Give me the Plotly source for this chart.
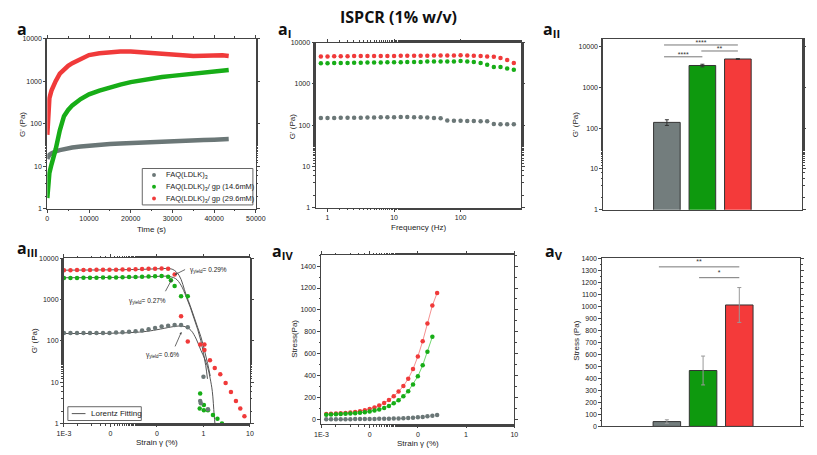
import plotly.graph_objects as go

# The page body has an 8px default margin: the figure starts 8px in from the window corner
OFF = 8
W, H = 817 - OFF, 455 - OFF
def PX(x): return (x - OFF) / W
def PY(y): return 1 - (y - OFF) / H

GRAY, GREEN, RED = '#6b7777', '#17ad17', '#f03a3a'
BGRAY, BGREEN, BRED = '#737d7d', '#0e990e', '#f43a3a'
FONT = 'Liberation Sans'

# ---------------- panel a : time sweep ----------------
time_s = [0, 250, 500, 1000, 1500, 2000, 3000, 4000, 5000, 6000, 8000, 10000, 12500,
          15000, 17500, 20000, 22500, 25000, 27500, 30000, 32500, 35000, 37500, 40000, 42000, 43500]
a_gray = [15, 17, 18.5, 20, 21.5, 22.5, 24, 25.5, 26.5, 27.5, 29, 30.5, 32, 33.5, 34.5,
          35.5, 36.5, 37.5, 38.5, 39.5, 40, 41, 41.5, 42, 43, 43.5]
a_green = [1.8, 4.5, 7.0, 11, 16, 25, 70, 150, 210, 270, 380, 490, 600, 720, 830, 950,
           1050, 1150, 1250, 1330, 1420, 1500, 1580, 1680, 1760, 1820]
a_red = [55, 250, 400, 600, 800, 1000, 1500, 1900, 2300, 2650, 3400, 4100, 4500, 4800,
         5000, 5000, 4800, 4500, 4350, 4200, 4000, 3900, 3950, 4050, 4050, 3900]
time_ticks = [0, 10000, 20000, 30000, 40000, 50000]
legend_labels = ['FAQ(LDLK)<sub>3</sub>', 'FAQ(LDLK)<sub>3</sub>/ gp (14.6mM)',
                 'FAQ(LDLK)<sub>3</sub>/ gp (29.6mM)']

# ---------------- panel aI : frequency sweep ----------------
freq_hz = [0.794, 1, 1.26, 1.58, 2, 2.51, 3.16, 3.98, 5.01, 6.31, 7.94, 10, 12.6, 15.8, 20,
           25.1, 31.6, 39.8, 50.1, 63.1, 79.4, 100, 126, 158, 200, 251, 316, 398, 501, 631]
f_red = [4600, 4600, 4650, 4650, 4650, 4700, 4700, 4700, 4700, 4750, 4750, 4750, 4800, 4800,
         4800, 4800, 4800, 4850, 4850, 4850, 4850, 4900, 4850, 4800, 4750, 4600, 4500, 4200, 3800, 3200]
f_green = [3150, 3150, 3200, 3200, 3200, 3250, 3250, 3300, 3300, 3300, 3350, 3350, 3350, 3400,
           3400, 3400, 3450, 3450, 3450, 3450, 3450, 3550, 3450, 3400, 3200, 2900, 2550, 2550, 2350, 2200]
f_gray = [150, 150, 150, 152, 152, 152, 152, 153, 153, 155, 155, 156, 158, 158, 156, 155, 153,
          150, 148, 130, 128, 128, 127, 126, 125, 124, 107, 106, 106, 106]

# ---------------- panel aII : G' bars ----------------
bar_cats = [0, 1, 2]
g_bars = [138, 3400, 4900]
g_err = [22, 250, 100]
g_sig_from = [-0.08, -0.08, 0.97]
g_sig_to = [2.0, 1.0, 2.0]
g_sig_level = [10800, 5550, 7700]
g_sig_text = ['****', '****', '**']
g_sig_text_level = [11800, 6100, 8400]

# ---------------- panel aIII : amplitude sweep ----------------
s_red = [0.001, 0.00138, 0.00191, 0.00263, 0.00363, 0.00501, 0.00692, 0.00955, 0.0132, 0.0182,
         0.0251, 0.0347, 0.0479, 0.0661, 0.0912, 0.126, 0.174, 0.24, 0.33, 0.46, 0.85, 1.05, 1.05,
         1.38, 1.75, 2.3, 3.0, 3.9, 5.0, 6.2, 7.6]
g_red = [5100, 5100, 5150, 5150, 5150, 5200, 5200, 5200, 5250, 5300, 5300, 5400, 5450, 5500,
         5550, 5600, 5500, 4000, 390, 96, 81, 81, 60, 34, 22, 15.5, 9.5, 5.8, 3.5, 2.3, 1.5]
s_green = [0.001, 0.00138, 0.00191, 0.00263, 0.00363, 0.00501, 0.00692, 0.00955, 0.0132, 0.0182,
           0.0251, 0.0347, 0.0479, 0.0661, 0.0912, 0.126, 0.174, 0.2, 0.24, 0.33, 0.46, 0.85,
           0.83, 1.02, 1.02, 1.25, 1.6, 2.0, 2.5]
g_green = [3300, 3300, 3300, 3350, 3350, 3350, 3400, 3400, 3400, 3450, 3500, 3500, 3550, 3600,
           3650, 3700, 3550, 2900, 2100, 1200, 1200, 5.3, 2.3, 2.8, 2.1, 2.1, 1.6, 1.3, 1.0]
s_gray = [0.001, 0.00138, 0.00191, 0.00263, 0.00363, 0.00501, 0.00692, 0.00955, 0.0132, 0.0182,
          0.0251, 0.0347, 0.0479, 0.0661, 0.0912, 0.126, 0.174, 0.24, 0.33, 0.46, 0.85, 0.88,
          1.0, 1.25]
g_gray = [155, 155, 155, 155, 155, 155, 155, 155, 158, 160, 165, 170, 178, 190, 205, 220, 232,
          240, 242, 212, 3.5, 3.1, 13.5, 2.2]
fit_red_s = [0.001, 0.01, 0.05, 0.1, 0.15, 0.22, 0.3, 0.42, 0.52, 0.63, 0.75, 0.88, 1.05, 1.23, 1.4]
fit_red_g = [5100, 5200, 5350, 5500, 5600, 5300, 3800, 1330, 700, 375, 210, 125, 59, 28, 14]
fit_green_s = [0.001, 0.01, 0.05, 0.1, 0.16, 0.25, 0.33, 0.42, 0.52, 0.63, 0.75, 0.88, 1.0, 1.12, 1.22]
fit_green_g = [3350, 3400, 3500, 3600, 3650, 3200, 2200, 1200, 650, 340, 190, 100, 50, 25, 12]
fit_gray_s = [0.001, 0.01, 0.05, 0.1, 0.2, 0.3, 0.4, 0.54, 0.7, 0.88, 1.05, 1.23, 1.4, 1.55, 1.7, 1.78]
fit_gray_g = [150, 152, 165, 185, 215, 228, 220, 178, 110, 59, 38, 23, 12, 6, 1.6, 0.9]
yield_labels = ['γ<sub>yield</sub>= 0.29%', 'γ<sub>yield</sub>= 0.27%', 'γ<sub>yield</sub>= 0.6%']

# ---------------- panel aIV : stress vs strain ----------------
st_strain = [0.00126, 0.00158, 0.002, 0.00251, 0.00316, 0.00398, 0.00501, 0.00631, 0.00794, 0.01,
             0.0126, 0.0158, 0.02, 0.0251, 0.0316, 0.0398, 0.0501, 0.0631, 0.0794, 0.1, 0.126,
             0.158, 0.2, 0.251]
st_red = [50, 52, 54, 57, 60, 64, 69, 76, 85, 96, 110, 128, 150, 178, 212, 255, 305, 372, 460,
          575, 715, 875, 1040, 1155]
st_green = [44, 46, 48, 50, 52, 55, 58, 62, 67, 74, 82, 92, 106, 124, 148, 176, 212, 257, 320,
            394, 495, 618, 755]
st_gray = [2, 2, 2, 3, 3, 3, 4, 4, 4, 5, 5, 6, 7, 8, 9, 10, 12, 14, 17, 20, 24, 29, 34, 40]

# ---------------- panel aV : yield stress bars ----------------
s_bars = [40, 465, 1010]
s_err = [15, 120, 145]
s_sig_from = [-0.22, 0.89]
s_sig_to = [2.0, 2.0]
s_sig_level = [1327, 1237]
s_sig_text = ['**', '*']
s_sig_text_level = [1365, 1272]

fig = go.Figure()

def mk(sz, c):
    return dict(size=sz, color=c, line=dict(width=0))

# panel a
for y, c in [(a_gray, GRAY), (a_green, GREEN), (a_red, RED)]:
    fig.add_trace(go.Scatter(x=time_s, y=y, mode='lines', line=dict(color=c, width=4.5),
                             xaxis='x', yaxis='y', showlegend=False))
# panel aI
for y, c in [(f_red, RED), (f_green, GREEN), (f_gray, GRAY)]:
    fig.add_trace(go.Scatter(x=freq_hz, y=y, mode='markers', marker=mk(4.5, c),
                             xaxis='x2', yaxis='y2', showlegend=False))
# panel aII
fig.add_trace(go.Bar(x=bar_cats, y=g_bars, width=0.75,
                     marker=dict(color=[BGRAY, BGREEN, BRED], line=dict(color='#333', width=1)),
                     error_y=dict(type='data', array=g_err, color='#333', thickness=1, width=2),
                     xaxis='x3', yaxis='y3', showlegend=False))
for a, b, lv in zip(g_sig_from, g_sig_to, g_sig_level):
    fig.add_trace(go.Scatter(x=[a, b], y=[lv, lv], mode='lines', line=dict(color='#777', width=1),
                             xaxis='x3', yaxis='y3', showlegend=False))
fig.add_trace(go.Scatter(x=[(a + b) / 2 for a, b in zip(g_sig_from, g_sig_to)], y=g_sig_text_level,
                         mode='text', text=g_sig_text, textfont=dict(family=FONT, size=7, color='#333'),
                         xaxis='x3', yaxis='y3', showlegend=False))
# panel aIII
for xs, ys in [(fit_red_s, fit_red_g), (fit_green_s, fit_green_g), (fit_gray_s, fit_gray_g)]:
    fig.add_trace(go.Scatter(x=xs, y=ys, mode='lines', line=dict(color='#555', width=1, shape='spline'),
                             xaxis='x4', yaxis='y4', showlegend=False))
for xs, ys, c in [(s_red, g_red, RED), (s_green, g_green, GREEN), (s_gray, g_gray, GRAY)]:
    fig.add_trace(go.Scatter(x=xs, y=ys, mode='markers', marker=mk(4.5, c),
                             xaxis='x4', yaxis='y4', showlegend=False))
# panel aIV
fig.add_trace(go.Scatter(x=st_strain, y=st_red, mode='lines+markers', marker=mk(4.5, RED),
                         line=dict(color='#f59090', width=1), xaxis='x5', yaxis='y5', showlegend=False))
fig.add_trace(go.Scatter(x=st_strain[:len(st_green)], y=st_green, mode='lines+markers', marker=mk(4.5, GREEN),
                         line=dict(color='#70d870', width=1), xaxis='x5', yaxis='y5', showlegend=False))
fig.add_trace(go.Scatter(x=st_strain, y=st_gray, mode='markers', marker=mk(4.5, GRAY),
                         xaxis='x5', yaxis='y5', showlegend=False))
# panel aV
fig.add_trace(go.Bar(x=bar_cats, y=s_bars, width=0.76,
                     marker=dict(color=[BGRAY, BGREEN, BRED], line=dict(color='#333', width=1)),
                     error_y=dict(type='data', array=s_err, color='#999', thickness=1, width=2),
                     xaxis='x6', yaxis='y6', showlegend=False))
for a, b, lv in zip(s_sig_from, s_sig_to, s_sig_level):
    fig.add_trace(go.Scatter(x=[a, b], y=[lv, lv], mode='lines', line=dict(color='#777', width=1),
                             xaxis='x6', yaxis='y6', showlegend=False))
fig.add_trace(go.Scatter(x=[(a + b) / 2 for a, b in zip(s_sig_from, s_sig_to)], y=s_sig_text_level,
                         mode='text', text=s_sig_text, textfont=dict(family=FONT, size=7, color='#333'),
                         xaxis='x6', yaxis='y6', showlegend=False))

tf = dict(family=FONT, size=7, color='#222')
base = dict(showline=True, linecolor='#444', linewidth=1, mirror='ticks', ticks='outside',
            ticklen=3, tickwidth=1, tickcolor='#444', showgrid=False, zeroline=False, tickfont=tf)
minor = dict(ticks='outside', ticklen=1.5, tickcolor='#444', showgrid=False)
logy = dict(type='log', tickvals=[1, 10, 100, 1000, 10000], ticktext=['1', '10', '100', '1000', '10000'])
strain_ticks = dict(type='log', range=[-3, 1], tickvals=[0.001, 0.01, 0.1, 1, 10],
                    ticktext=['1E-3', '0', '0', '1', '10'])

fig.update_layout(
    width=W, height=H, margin=dict(l=0, r=0, t=0, b=0),
    paper_bgcolor='white', plot_bgcolor='white',
    xaxis=dict(base, domain=[PX(41), PX(254)], anchor='y', range=[0, 50000],
               tickvals=time_ticks, ticktext=[str(t) for t in time_ticks], minor=dict(minor, dtick=5000)),
    yaxis=dict(base, **logy, domain=[PY(208), PY(35)], anchor='x', range=[0, 4], minor=minor),
    xaxis2=dict(base, type='log', domain=[PX(315), PX(525)], anchor='y2', range=[-0.18, 2.91],
                tickvals=[1, 10, 100], ticktext=['1', '10', '100'], minor=minor),
    yaxis2=dict(base, **logy, domain=[PY(207), PY(39)], anchor='x2', range=[0, 4], minor=minor),
    xaxis3=dict(base, domain=[PX(609), PX(812)], anchor='y3', range=[-1.79, 3.81],
                showticklabels=False, ticks=''),
    yaxis3=dict(base, **logy, domain=[PY(209), PY(35)], anchor='x3', range=[0, 4.19], minor=minor),
    xaxis4=dict(base, **strain_ticks, domain=[PX(58), PX(248)], anchor='y4', minor=minor),
    yaxis4=dict(base, **logy, domain=[PY(426), PY(258)], anchor='x4', range=[0, 4], minor=minor),
    xaxis5=dict(base, **strain_ticks, domain=[PX(321), PX(518)], anchor='y5', minor=minor),
    yaxis5=dict(base, domain=[PY(427), PY(255)], anchor='x5', range=[-45, 1500],
                tickvals=[0, 200, 400, 600, 800, 1000, 1200, 1400], minor=dict(minor, dtick=100)),
    xaxis6=dict(base, domain=[PX(608), PX(810)], anchor='y6', range=[-1.78, 3.68],
                showticklabels=False, ticks=''),
    yaxis6=dict(base, domain=[PY(429), PY(258)], anchor='x6', range=[0, 1400],
                tickvals=list(range(0, 1401, 100)), minor=dict(minor, dtick=50)),
)

ann = []
def text(x, y, t, size=9, rot=0, bold=False, fam=FONT, xa='center', color='#222'):
    ann.append(dict(x=PX(x), y=PY(y), xref='paper', yref='paper', text=(f'<b>{t}</b>' if bold else t),
                    showarrow=False, textangle=rot, xanchor=xa, yanchor='middle',
                    font=dict(family=fam, size=size, color=color)))

text(400, 13, 'ISPCR (1% w/v)', size=16, bold=True, fam='Open Sans', color='#111')
for x, y, t in [(8, 25, 'a'), (275, 26, 'a<sub>I</sub>'), (545, 26, 'a<sub>II</sub>'),
                (8, 248, 'a<sub>III</sub>'), (268, 251, 'a<sub>IV</sub>'), (547, 251, 'a<sub>V</sub>')]:
    text(x, y, t, size=16, bold=True, fam='Open Sans', color='#111', xa='left')
# axis titles
text(147, 229, 'Time (s)', size=8)
text(420, 227, 'Frequency (Hz)', size=8)
text(153, 445, 'Strain γ (%)', size=8)
text(420, 446, 'Strain γ (%)', size=8)
text(15, 122, "G' (Pa)", size=8, rot=-90)
text(291, 125, "G' (Pa)", size=8, rot=-90)
text(580, 122, "G' (Pa)", size=8, rot=-90)
text(28, 342, "G' (Pa)", size=8, rot=-90)
text(294, 340, 'Stress(Pa)', size=8, rot=-90)
text(582, 342, 'Stress (Pa)', size=8, rot=-90)

# yield annotations (aIII)
text(185, 270, yield_labels[0], size=6.5, xa='left')
text(122, 302, yield_labels[1], size=6.5, xa='left')
text(140, 356, yield_labels[2], size=6.5, xa='left')
for (hx, hy, tx, ty) in [(171, 275, 183, 269), (168, 280, 161, 293), (178, 333, 171, 349)]:
    ann.append(dict(x=PX(hx), y=PY(hy), xref='paper', yref='paper', text='', showarrow=True,
                    ax=tx - hx, ay=ty - hy, axref='pixel', ayref='pixel', arrowhead=2,
                    arrowsize=0.6, arrowwidth=0.8, arrowcolor='#444'))

shapes = []
# legend panel a
shapes.append(dict(type='rect', xref='paper', yref='paper', x0=PX(138), x1=PX(251), y0=PY(204), y1=PY(167),
                   line=dict(color='#666', width=1), fillcolor='white'))
for i, (lab, c) in enumerate(zip(legend_labels, [GRAY, GREEN, RED])):
    yy = 173.5 + i * 12
    shapes.append(dict(type='circle', xref='paper', yref='paper', x0=PX(148), x1=PX(152),
                       y0=PY(yy + 2), y1=PY(yy - 2), fillcolor=c, line=dict(width=0)))
    text(160, yy, lab, size=7.5, xa='left')
# legend panel aIII
shapes.append(dict(type='rect', xref='paper', yref='paper', x0=PX(62), x1=PX(137), y0=PY(423), y1=PY(409),
                   line=dict(color='#666', width=1), fillcolor='white'))
shapes.append(dict(type='line', xref='paper', yref='paper', x0=PX(66), x1=PX(80), y0=PY(416), y1=PY(416),
                   line=dict(color='#555', width=1)))
text(84, 416, 'Lorentz Fitting', size=8, xa='left')

fig.update_layout(annotations=ann, shapes=shapes)
fig.write_html('out.html')
